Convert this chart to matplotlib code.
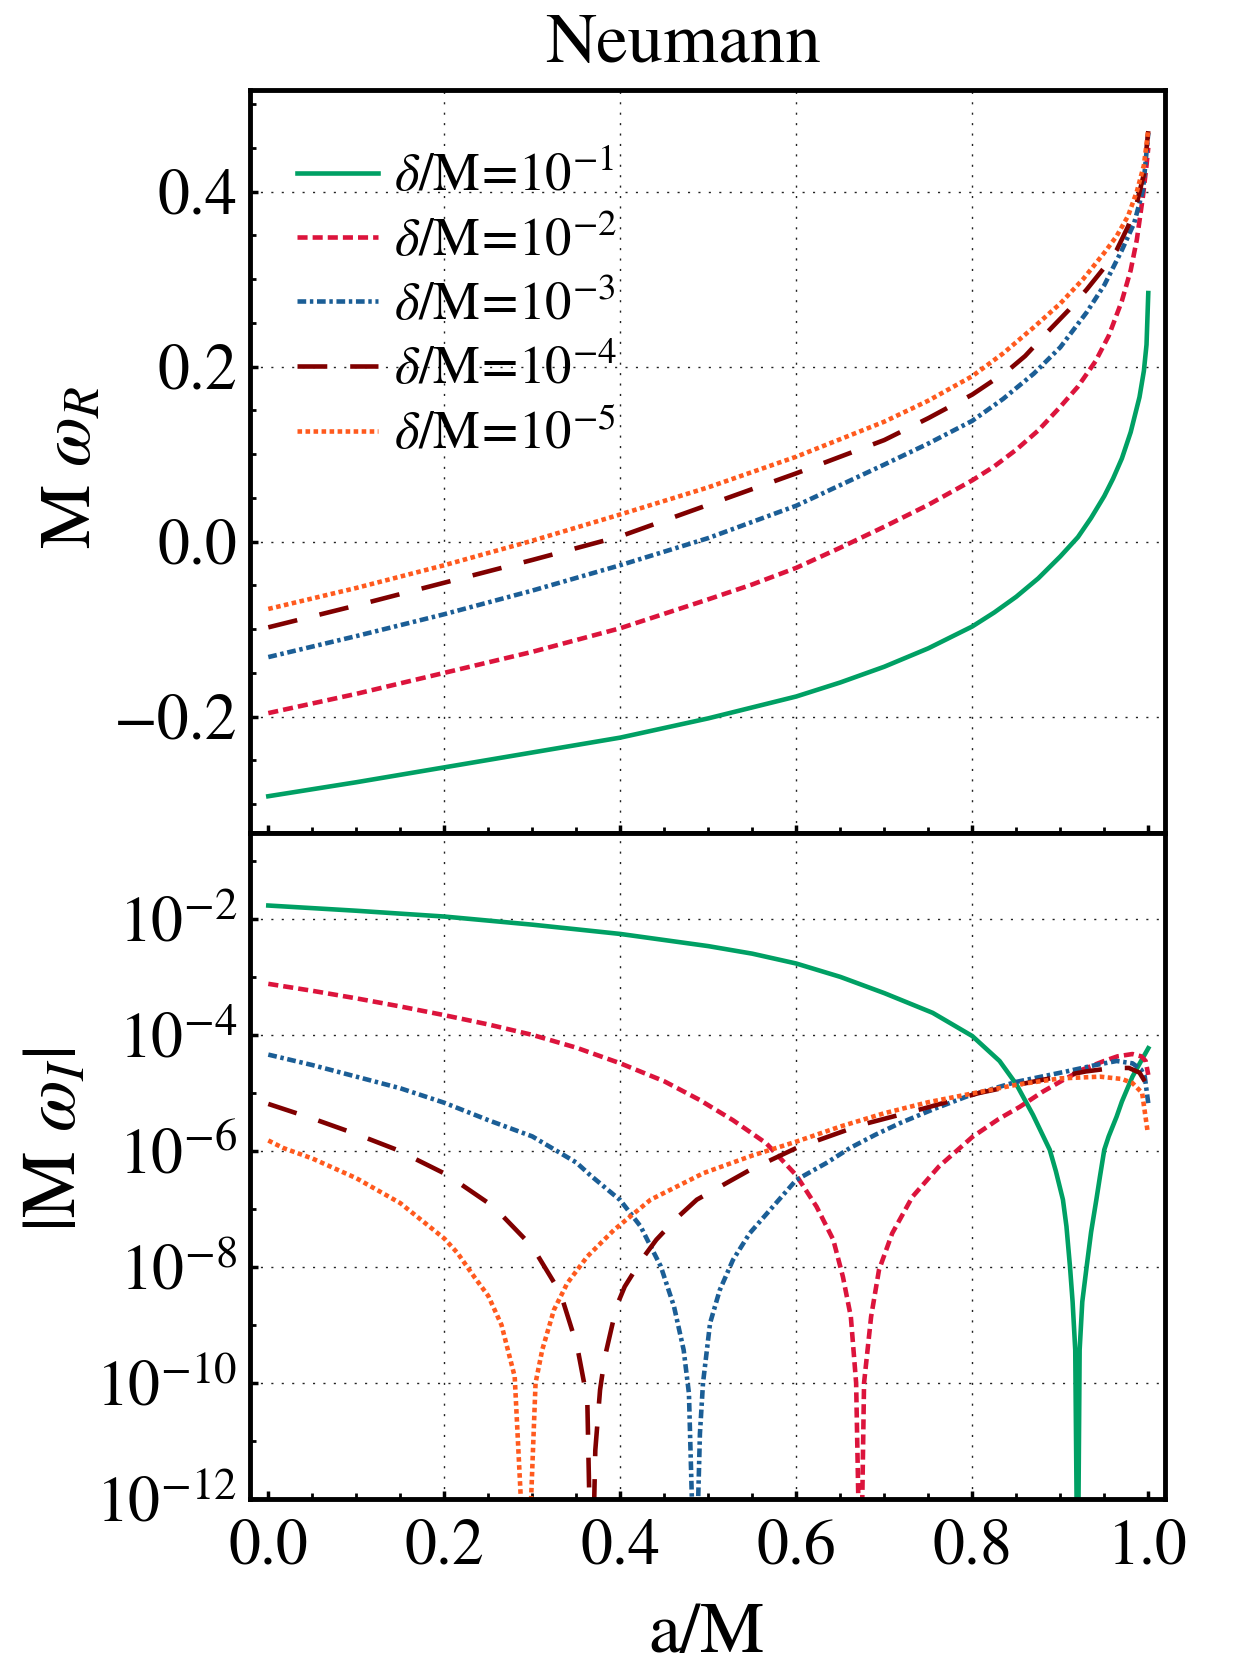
import numpy as np
import matplotlib
matplotlib.use("Agg")
import matplotlib.pyplot as plt
from matplotlib.ticker import MultipleLocator, FixedLocator, FixedFormatter, NullFormatter

plt.rcParams['font.family'] = 'STIXGeneral'
plt.rcParams['mathtext.fontset'] = 'stix'

# legend labels
labels = [r'$\delta/\mathrm{M}\!=\!10^{-1}$', r'$\delta/\mathrm{M}\!=\!10^{-2}$',
          r'$\delta/\mathrm{M}\!=\!10^{-3}$', r'$\delta/\mathrm{M}\!=\!10^{-4}$',
          r'$\delta/\mathrm{M}\!=\!10^{-5}$']

# ---- top panel: M omega_R ----
re1_x = [0, 0.1, 0.2, 0.3, 0.4, 0.5, 0.6, 0.65, 0.7, 0.75, 0.8, 0.825, 0.85, 0.875, 0.9, 0.92,
         0.935, 0.95, 0.96, 0.97, 0.98, 0.99, 0.995, 0.998, 1.0]
re1_y = [-0.291, -0.275, -0.258, -0.241, -0.224, -0.202, -0.177, -0.161, -0.143, -0.122, -0.097,
         -0.081, -0.063, -0.042, -0.017, 0.005, 0.027, 0.052, 0.072, 0.095, 0.125, 0.165, 0.195,
         0.225, 0.284]
re2_x = [0, 0.1, 0.2, 0.3, 0.4, 0.5, 0.55, 0.6, 0.65, 0.7, 0.75, 0.8, 0.825, 0.85, 0.875, 0.9,
         0.92, 0.94, 0.955, 0.97, 0.98, 0.987, 0.994, 0.998, 1.0]
re2_y = [-0.196, -0.174, -0.150, -0.126, -0.099, -0.066, -0.049, -0.030, -0.007, 0.017, 0.042,
         0.070, 0.086, 0.105, 0.127, 0.154, 0.177, 0.206, 0.235, 0.275, 0.31, 0.345, 0.395, 0.43,
         0.45]
re3_x = [0, 0.1, 0.2, 0.3, 0.4, 0.5, 0.6, 0.7, 0.75, 0.8, 0.835, 0.87, 0.9, 0.93, 0.95, 0.97,
         0.984, 0.994, 1.0]
re3_y = [-0.132, -0.108, -0.083, -0.056, -0.027, 0.004, 0.041, 0.088, 0.112, 0.138, 0.163, 0.192,
         0.222, 0.262, 0.293, 0.333, 0.364, 0.402, 0.467]
re4_x = [0, 0.1, 0.2, 0.3, 0.4, 0.5, 0.6, 0.7, 0.75, 0.8, 0.84, 0.86, 0.886, 0.91, 0.93, 0.95,
         0.964, 0.977, 0.987, 0.995, 1.0]
re4_y = [-0.098, -0.073, -0.047, -0.021, 0.006, 0.042, 0.078, 0.116, 0.141, 0.168, 0.195, 0.212,
         0.240, 0.265, 0.288, 0.313, 0.333, 0.36, 0.387, 0.42, 0.469]
re5_x = [0, 0.1, 0.2, 0.3, 0.4, 0.5, 0.6, 0.7, 0.75, 0.8, 0.835, 0.87, 0.9, 0.926, 0.95, 0.964,
         0.977, 0.987, 0.995, 1.0]
re5_y = [-0.077, -0.053, -0.027, 0.001, 0.031, 0.062, 0.097, 0.137, 0.161, 0.189, 0.215, 0.245,
         0.272, 0.300, 0.33, 0.349, 0.372, 0.400, 0.43, 0.47]

# ---- bottom panel: log10 |M omega_I| (dips go to zero, -14 is below the axis) ----
im1_x = [0, 0.1, 0.2, 0.3, 0.4, 0.5, 0.55, 0.6, 0.65, 0.7, 0.755, 0.8, 0.831, 0.85, 0.869, 0.888,
         0.895, 0.903, 0.907, 0.911, 0.914, 0.917, 0.9197, 0.922, 0.925, 0.93, 0.935, 0.941,
         0.945, 0.95, 0.955, 0.964, 0.97, 0.982, 0.99, 1.0]
im1_lg = [-1.77, -1.86, -1.96, -2.10, -2.26, -2.47, -2.60, -2.77, -3.0, -3.28, -3.62, -4.02,
          -4.45, -4.85, -5.38, -5.98, -6.35, -6.84, -7.3, -7.99, -8.6, -9.43, -14, -9.43, -8.6,
          -7.99, -7.4, -6.84, -6.45, -5.98, -5.75, -5.41, -5.15, -4.72, -4.5, -4.23]
im2_x = [0, 0.05, 0.1, 0.15, 0.2, 0.25, 0.3, 0.35, 0.4, 0.45, 0.49, 0.528, 0.566, 0.6, 0.623,
         0.642, 0.653, 0.662, 0.668, 0.673, 0.677, 0.685, 0.694, 0.709, 0.732, 0.762, 0.8, 0.83,
         0.854, 0.88, 0.903, 0.925, 0.948, 0.965, 0.982, 0.992, 0.997, 1.0]
im2_lg = [-3.12, -3.24, -3.37, -3.51, -3.66, -3.82, -4.0, -4.22, -4.49, -4.80, -5.12, -5.47, -5.87,
          -6.42, -6.96, -7.53, -8.17, -8.86, -10.0, -14, -10.0, -8.86, -8.05, -7.42, -6.79, -6.27,
          -5.76, -5.45, -5.24, -4.98, -4.78, -4.60, -4.46, -4.37, -4.33, -4.37, -4.45, -4.69]
im3_x = [0, 0.05, 0.1, 0.15, 0.2, 0.25, 0.3, 0.35, 0.366, 0.4, 0.423, 0.446, 0.461, 0.472, 0.478,
         0.485, 0.4905, 0.494, 0.502, 0.513, 0.528, 0.547, 0.57, 0.6, 0.634, 0.661, 0.69, 0.718,
         0.756, 0.794, 0.85, 0.907, 0.94, 0.964, 0.982, 0.992, 0.996, 1.0]
im3_lg = [-4.34, -4.52, -4.72, -4.92, -5.17, -5.47, -5.75, -6.2, -6.42, -6.85, -7.3, -7.99, -8.68,
          -9.43, -10.18, -14, -10.87, -10.0, -8.97, -8.40, -7.88, -7.42, -7.02, -6.5, -6.21, -5.95,
          -5.72, -5.52, -5.28, -5.06, -4.81, -4.63, -4.52, -4.45, -4.49, -4.6, -4.72, -5.18]
im4_x = [0, 0.05, 0.1, 0.146, 0.203, 0.256, 0.3, 0.332, 0.351, 0.3625, 0.3675, 0.3716, 0.377,
         0.3825, 0.3957, 0.405, 0.424, 0.441, 0.464, 0.487, 0.547, 0.6, 0.674, 0.747, 0.808,
         0.868, 0.929, 0.96, 0.978, 0.99, 0.996]
im4_lg = [-5.19, -5.44, -5.71, -5.98, -6.41, -6.96, -7.65, -8.45, -9.37, -10.29, -14, -11.16,
          -10.12, -9.55, -8.68, -8.34, -7.88, -7.53, -7.16, -6.84, -6.33, -5.95, -5.55, -5.26,
          -5.0, -4.81, -4.63, -4.57, -4.57, -4.65, -4.8]
im5_x = [0, 0.017, 0.05, 0.1, 0.15, 0.2, 0.215, 0.234, 0.25, 0.265, 0.28, 0.2936, 0.3037, 0.3113,
         0.3246, 0.3398, 0.3625, 0.393, 0.4345, 0.495, 0.55, 0.6, 0.65, 0.7, 0.75, 0.8, 0.85, 0.9,
         0.945, 0.97, 0.982, 0.993, 0.999]
im5_lg = [-5.82, -5.95, -6.13, -6.47, -6.9, -7.51, -7.76, -8.17, -8.5, -9.0, -9.89, -14, -10.0,
          -9.43, -8.74, -8.28, -7.82, -7.36, -6.84, -6.38, -6.08, -5.84, -5.58, -5.35, -5.16,
          -5.01, -4.86, -4.75, -4.72, -4.76, -4.83, -5.0, -5.64]

colors = ['#00A064', '#DC143C', '#1B5E96', '#800000', '#FF5A1E']
dashes = [None, (2.2, 1.1), (1.9, 0.8, 0.75, 0.8), (6.5, 5.0), (1.0, 0.75)]
lw = 3.3

fig = plt.figure(figsize=(12.5, 16.67), dpi=100)
W, H = 1250, 1667
ax1 = fig.add_axes([250 / W, 1 - 833 / H, 915 / W, 743 / H])
ax2 = fig.add_axes([250 / W, 1 - 1499 / H, 915 / W, 666 / H], sharex=ax1)

re_x = [re1_x, re2_x, re3_x, re4_x, re5_x]
re_y = [re1_y, re2_y, re3_y, re4_y, re5_y]
im_x = [im1_x, im2_x, im3_x, im4_x, im5_x]
im_lg = [im1_lg, im2_lg, im3_lg, im4_lg, im5_lg]

handles = []
for i in range(5):
    l1, = ax1.plot(re_x[i], re_y[i], color=colors[i], lw=lw, label=labels[i])
    l2, = ax2.plot(im_x[i], 10.0 ** np.array(im_lg[i]), color=colors[i], lw=lw)
    if dashes[i] is not None:
        l1.set_dashes(dashes[i])
        l2.set_dashes(dashes[i])
    handles.append(l1)

ax2.set_yscale('log')
ax1.set_xlim(-0.0208, 1.019)
ax1.set_ylim(-0.333, 0.516)
ax2.set_ylim(1e-12, 10 ** -0.52)

ax1.xaxis.set_major_locator(MultipleLocator(0.2))
ax1.xaxis.set_minor_locator(MultipleLocator(0.05))
ax1.yaxis.set_major_locator(FixedLocator([-0.2, 0.0, 0.2, 0.4]))
ax1.yaxis.set_minor_locator(MultipleLocator(0.05))
ax1.yaxis.set_major_formatter(FixedFormatter(['\u22120.2', '0.0', '0.2', '0.4']))

ax2.yaxis.set_major_locator(FixedLocator([1e-12, 1e-10, 1e-8, 1e-6, 1e-4, 1e-2]))
ax2.yaxis.set_major_formatter(FixedFormatter(
    [r'$10^{-12}$', r'$10^{-10}$', r'$10^{-8}$', r'$10^{-6}$', r'$10^{-4}$', r'$10^{-2}$']))
ax2.yaxis.set_minor_locator(FixedLocator([1e-11, 1e-9, 1e-7, 1e-5, 1e-3, 1e-1]))
ax2.yaxis.set_minor_formatter(NullFormatter())
ax2.set_xticks([0.0, 0.2, 0.4, 0.6, 0.8, 1.0])
ax2.set_xticklabels(['0.0', '0.2', '0.4', '0.6', '0.8', '1.0'])

for ax in (ax1, ax2):
    for s in ax.spines.values():
        s.set_linewidth(3.5)
    ax.tick_params(which='major', direction='in', length=6, width=2.5, labelsize=46, pad=9,
                   top=False, right=False)
    ax.tick_params(which='minor', direction='in', length=4.5, width=2.0, top=False, right=False)
ax1.tick_params(labelbottom=False)
ax2.tick_params(axis='x', pad=14)

# dotted grid at interior major ticks
grid_style = dict(color='#222222', lw=1.0, ls=(0, (1.5, 6)), zorder=0)
for gx in [0.2, 0.4, 0.6, 0.8]:
    ax1.axvline(gx, **grid_style)
    ax2.axvline(gx, **grid_style)
for gy in [-0.2, 0.0, 0.2, 0.4]:
    ax1.axhline(gy, **grid_style)
for gy in [1e-10, 1e-8, 1e-6, 1e-4, 1e-2]:
    ax2.axhline(gy, **grid_style)

ax1.legend(handles=handles, loc='upper left', bbox_to_anchor=(0.051, 0.915), frameon=False,
           fontsize=38, handlelength=1.55, handletextpad=0.3, labelspacing=0.27, borderpad=0,
           borderaxespad=0)

fig.text(683 / W, 1 - 45 / H, 'Neumann', fontsize=51, ha='center', va='center')
fig.text(707 / W, 1 - 1635 / H, 'a/M', fontsize=52, ha='center', va='center')
fig.text(74 / W, 1 - 467 / H, r'M $\omega_R$', fontsize=52, ha='center', va='center', rotation=90)
fig.text(58 / W, 1 - 1140 / H, r'|M $\omega_I$|', fontsize=54, ha='center', va='center', rotation=90)

fig.savefig('out.png', dpi=100)
